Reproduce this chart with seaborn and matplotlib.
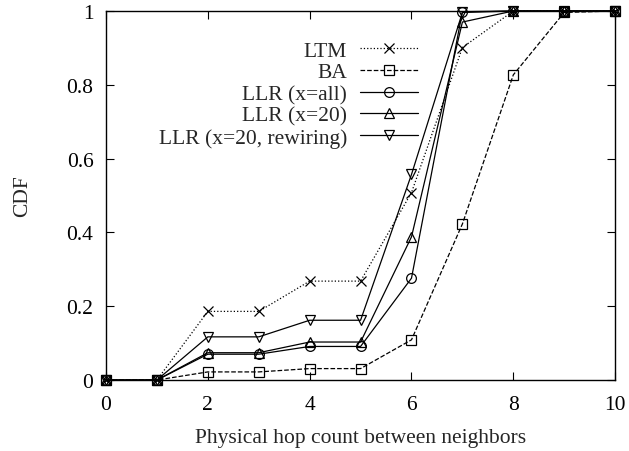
import matplotlib
matplotlib.use("Agg")
import matplotlib.pyplot as plt
import seaborn as sns
import pandas as pd

# Datos
hops = [0, 1, 2, 3, 4, 5, 6, 7, 8, 9, 10]
ltm = [0, 0, 0.186, 0.186, 0.268, 0.268, 0.508, 0.901, 1.0, 1.0, 1.0]
ba = [0, 0, 0.022, 0.022, 0.031, 0.031, 0.109, 0.423, 0.827, 0.996, 1.0]
llr_all = [0, 0, 0.070, 0.070, 0.091, 0.091, 0.276, 0.998, 1.0, 1.0, 1.0]
llr_20 = [0, 0, 0.074, 0.074, 0.103, 0.103, 0.388, 0.970, 1.0, 1.0, 1.0]
llr_rewire = [0, 0, 0.117, 0.117, 0.162, 0.162, 0.557, 0.996, 1.0, 1.0, 1.0]

labels = ["LTM", "BA", "LLR (x=all)", "LLR (x=20)", "LLR (x=20, rewiring)"]
series = [ltm, ba, llr_all, llr_20, llr_rewire]
markers = ["x", "s", "o", "^", "v"]
linestyles = [":", "--", "-", "-", "-"]

sns.set_style("ticks")
plt.rcParams["font.family"] = ["Liberation Serif", "DejaVu Serif"]
FS = 15.5

fig = plt.figure(figsize=(6.29, 4.52), dpi=100)
ax = fig.add_axes([0.1685, 0.157, 0.8095, 0.8165])

for lab, vals, mk, ls in zip(labels, series, markers, linestyles):
    df = pd.DataFrame({"hop": hops, "cdf": vals})
    sns.lineplot(data=df, x="hop", y="cdf", ax=ax, label=lab, color="black",
                 marker=mk, linestyle=ls, linewidth=0.9, markersize=7,
                 markerfacecolor="none", markeredgecolor="black",
                 markeredgewidth=0.9, clip_on=False, zorder=3)

ax.set_xlim(0, 10)
ax.set_ylim(0, 1)
ax.set_xticks([0, 2, 4, 6, 8, 10])
ax.set_yticks([0, 0.2, 0.4, 0.6, 0.8, 1])
ax.set_yticklabels(["0", "0.2", "0.4", "0.6", "0.8", "1"])
ax.tick_params(direction="in", length=6, width=0.8, top=True, right=True,
               labelsize=FS, colors="black")
ax.tick_params(axis="x", pad=10.5)
ax.tick_params(axis="y", pad=9)
for s in ax.spines.values():
    s.set_visible(True)
    s.set_linewidth(1.0)
    s.set_color("black")

ax.set_xlabel("Physical hop count between neighbors", fontsize=FS, labelpad=10)
ax.set_ylabel("CDF", fontsize=FS, labelpad=25)

ax.legend(loc="upper right", bbox_to_anchor=(0.613, 0.92), frameon=False,
          markerfirst=False, fontsize=FS, handlelength=2.7,
          labelspacing=0.08, handletextpad=0.6, borderaxespad=0, borderpad=0)
leg = ax.get_legend()
leg._legend_box.align = "right"

fig.savefig("out.png", dpi=100)
